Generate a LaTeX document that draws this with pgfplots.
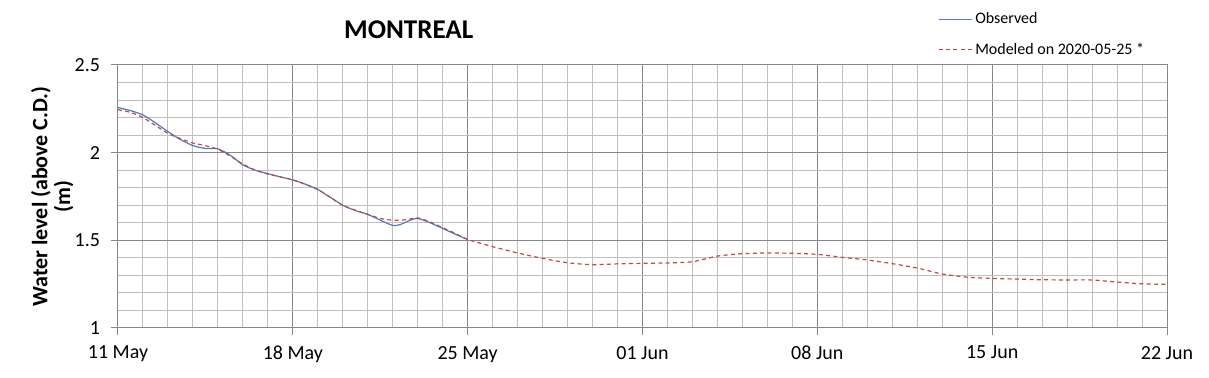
\documentclass[border=0pt]{standalone}
\usepackage{pgfplots}
\pgfplotsset{compat=1.18}
\usepackage{fontspec}
\setmainfont{Carlito}
\definecolor{obsblue}{HTML}{4A7EBB}
\definecolor{modred}{HTML}{BE4B48}
\definecolor{majgrid}{HTML}{878787}
\definecolor{mingrid}{HTML}{BFBFBF}
\begin{document}
\begin{tikzpicture}
\path[use as bounding box] (0,0) rectangle (906.75pt,283.5pt);
\begin{axis}[
  at={(88.5pt,37.5pt)}, anchor=south west,
  scale only axis, width=786.75pt, height=197.25pt,
  xmin=0, xmax=42, ymin=1, ymax=2.5,
  xtick={0,7,14,21,28,35,42},
  xticklabels={11 May,18 May,25 May,01 Jun,08 Jun,15 Jun,22 Jun},
  minor x tick num=6,
  ytick={1,1.5,2,2.5},
  yticklabels={1,1.5,2,2.5},
  minor y tick num=4,
  grid=both,
  major grid style={majgrid, line width=0.75pt},
  minor grid style={mingrid, line width=0.75pt},
  axis line style={majgrid, line width=0.75pt},
  tick style={majgrid, line width=0.75pt},
  major tick length=5pt, minor tick length=0pt,
  tick align=outside, tick pos=left,
  ticklabel style={font=\fontsize{15}{17}\selectfont, text=black},
  /pgf/number format/assume math mode=true,
  xticklabel style={yshift=-5pt},
  yticklabel style={xshift=-5pt},
  ylabel={Water level (above C.D.)\\(m)},
  ylabel style={font=\bfseries\fontsize{16.5}{17}\selectfont, align=center, yshift=-6pt},
  legend style={at={(0.7815,1.21)}, anchor=north west, draw=none, fill=none,
    font=\fontsize{12}{13}\selectfont, row sep=9pt, inner sep=0pt},
  legend cell align=left,
  legend image code/.code={\draw[#1] (0pt,0pt) -- (25pt,0pt);},
  clip=false,
]
\addplot[obsblue, line width=0.9pt, smooth, tension=0.4] coordinates {
(0,2.257) (0.5,2.24) (1,2.215) (1.5,2.17) (2,2.12) (2.5,2.075) (3,2.04) (3.5,2.024) (4,2.022) (4.5,1.985) (5,1.93) (5.5,1.90) (6,1.88) (6.5,1.862) (7,1.844) (7.5,1.82) (8,1.79) (8.5,1.745) (9,1.70) (9.5,1.67) (10,1.648) (10.5,1.615) (11,1.585) (11.3,1.59) (11.7,1.615) (12,1.625) (12.5,1.60) (13,1.568) (13.5,1.535) (14,1.505)
};
\addlegendentry{Observed}
\addplot[modred, line width=0.9pt, dash pattern=on 3pt off 2.5pt, smooth, tension=0.4] coordinates {
(0,2.245) (0.5,2.23) (1,2.20) (1.5,2.155) (2,2.11) (2.5,2.08) (3,2.055) (3.5,2.04) (4,2.02) (4.5,1.98) (5,1.935) (5.5,1.90) (6,1.878) (6.5,1.862) (7,1.845) (7.5,1.82) (8,1.79) (8.5,1.745) (9,1.70) (9.5,1.672) (10,1.648) (10.5,1.625) (11,1.615) (11.5,1.617) (12,1.628) (12.5,1.605) (13,1.572) (13.5,1.54) (14,1.505) (15,1.464) (16,1.428) (17,1.397) (18,1.372) (19,1.361) (20,1.366) (21,1.369) (22,1.371) (23,1.378) (24,1.41) (25,1.424) (26,1.428) (27,1.426) (28,1.42) (29,1.403) (30,1.388) (31,1.367) (32,1.342) (33,1.308) (34,1.29) (35,1.283) (36,1.279) (37,1.275) (38,1.274) (39,1.274) (40,1.262) (41,1.252) (42,1.249)
};
\addlegendentry{Modeled on 2020-05-25 *}
\end{axis}
\node[font=\bfseries\fontsize{20.3}{22}\selectfont] at (306.5pt,261pt) {MONTREAL};
\end{tikzpicture}
\end{document}
